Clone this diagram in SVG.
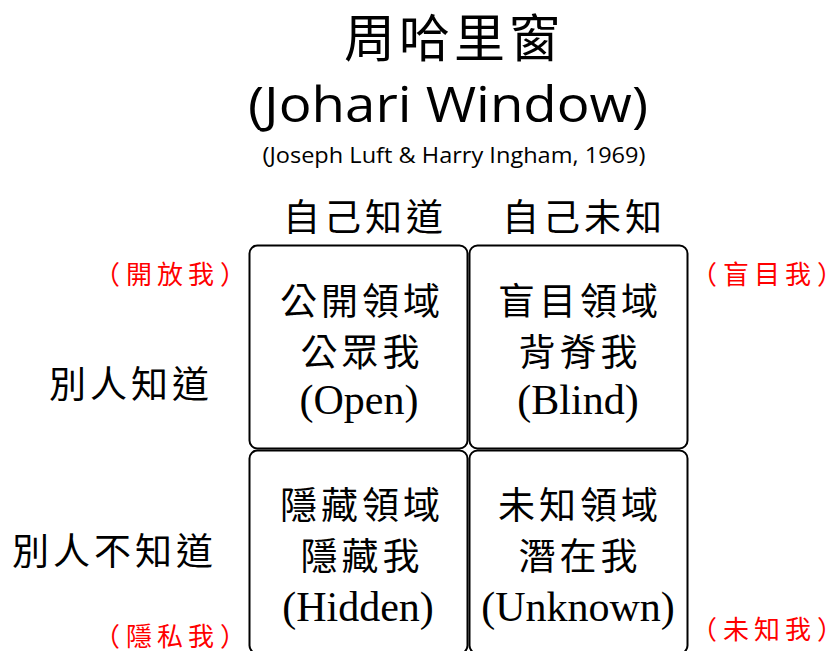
<svg xmlns="http://www.w3.org/2000/svg" width="831" height="651" viewBox="0 0 831 651">
<style>
.cjk{font-family:"Noto Sans CJK TC","Noto Sans CJK SC",sans-serif;fill:#000}
.cell{fill:#fff;stroke:#000;stroke-width:2}
.ct{font-size:37px;letter-spacing:4px;text-anchor:middle}
.en{font-family:"Liberation Serif",serif;font-size:42px;text-anchor:middle;fill:#000}
.red{font-family:"Noto Sans CJK TC",sans-serif;font-size:26px;fill:#f00}
</style>
<rect width="831" height="651" fill="#fff"/>
<g id="title">
<text class="cjk" x="454" y="57" font-size="51" letter-spacing="4" text-anchor="middle">周哈里窗</text>
<text x="448" y="122" font-family="Open Sans, sans-serif" font-size="49" text-anchor="middle" textLength="400" lengthAdjust="spacingAndGlyphs">(Johari Window)</text>
<text x="454" y="163" font-family="Open Sans, sans-serif" font-size="21" text-anchor="middle" textLength="383" lengthAdjust="spacingAndGlyphs">(Joseph Luft &amp; Harry Ingham, 1969)</text>
</g>
<g id="col-headers">
<text class="cjk ct" x="365" y="231">自己知道</text>
<text class="cjk ct" x="584" y="231">自己未知</text>
</g>
<g id="row-headers">
<text class="cjk" x="49" y="398" font-size="37" letter-spacing="4">別人知道</text>
<text class="cjk" x="12" y="565" font-size="37" letter-spacing="4">別人不知道</text>
</g>
<g id="open">
<rect class="cell" x="249.5" y="245.5" width="218" height="203" rx="8"/>
<text class="cjk ct" x="362" y="315">公開領域</text>
<text class="cjk ct" x="362" y="366">公眾我</text>
<text class="en" x="359" y="414">(Open)</text>
</g>
<g id="blind">
<rect class="cell" x="469.5" y="245.5" width="218" height="203" rx="8"/>
<text class="cjk ct" x="580" y="315">盲目領域</text>
<text class="cjk ct" x="580" y="366">背脊我</text>
<text class="en" x="578" y="414">(Blind)</text>
</g>
<g id="hidden">
<rect class="cell" x="249.5" y="450.5" width="218" height="203" rx="8"/>
<text class="cjk ct" x="362" y="519">隱藏領域</text>
<text class="cjk ct" x="362" y="570">隱藏我</text>
<text class="en" x="358" y="621">(Hidden)</text>
</g>
<g id="unknown">
<rect class="cell" x="469.5" y="450.5" width="218" height="203" rx="8"/>
<text class="cjk ct" x="580" y="519">未知領域</text>
<text class="cjk ct" x="580" y="570">潛在我</text>
<text class="en" x="578" y="621">(Unknown)</text>
</g>
<g id="red-labels">
<text class="red" x="170" y="284" text-anchor="middle">（<tspan dx="6">開</tspan><tspan dx="5">放</tspan><tspan dx="5">我</tspan><tspan dx="6">）</tspan></text>
<text class="red" x="767" y="284" text-anchor="middle">（<tspan dx="6">盲</tspan><tspan dx="5">目</tspan><tspan dx="5">我</tspan><tspan dx="6">）</tspan></text>
<text class="red" x="170" y="646" text-anchor="middle">（<tspan dx="6">隱</tspan><tspan dx="5">私</tspan><tspan dx="5">我</tspan><tspan dx="6">）</tspan></text>
<text class="red" x="767" y="639" text-anchor="middle">（<tspan dx="6">未</tspan><tspan dx="5">知</tspan><tspan dx="5">我</tspan><tspan dx="6">）</tspan></text>
</g>
</svg>
